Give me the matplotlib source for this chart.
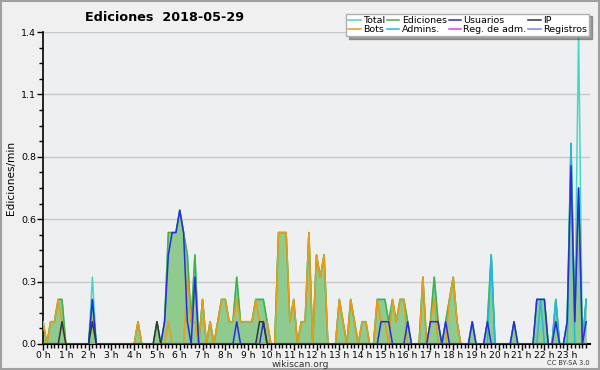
import numpy as np
import matplotlib
matplotlib.use("Agg")
from matplotlib import pyplot as plt
from matplotlib.patches import Rectangle

# edits per 10-minute slot, one row per hour
total = [1, 0, 1, 1, 2, 2,  0, 0, 0, 0, 0, 0,  0, 3, 0, 0, 0, 0,  0, 0, 0, 0, 0, 0,
         0, 1, 0, 0, 0, 0,  1, 0, 1, 5, 5, 5,  6, 5, 4, 1, 4, 0,  2, 0, 1, 0, 1, 2,
         2, 1, 1, 3, 1, 1,  1, 1, 2, 2, 2, 1,  0, 0, 5, 5, 5, 1,  2, 0, 1, 1, 5, 0,
         4, 3, 4, 0, 0, 0,  2, 1, 0, 2, 1, 0,  1, 1, 0, 0, 2, 2,  2, 1, 2, 1, 2, 2,
         1, 0, 0, 0, 3, 0,  1, 3, 1, 0, 1, 2,  3, 1, 0, 0, 0, 1,  0, 0, 0, 1, 4, 0,
         0, 0, 0, 0, 1, 0,  0, 0, 0, 0, 2, 2,  2, 0, 0, 2, 0, 0,  1, 9, 1, 14, 0, 2]
ediciones = [1, 0, 1, 1, 2, 2,  0, 0, 0, 0, 0, 0,  0, 2, 0, 0, 0, 0,  0, 0, 0, 0, 0, 0,
             0, 1, 0, 0, 0, 0,  1, 0, 1, 5, 5, 5,  6, 5, 4, 1, 4, 0,  2, 0, 1, 0, 1, 2,
             2, 1, 1, 3, 1, 1,  1, 1, 2, 2, 2, 1,  0, 0, 5, 5, 5, 1,  2, 0, 1, 1, 5, 0,
             4, 3, 4, 0, 0, 0,  2, 1, 0, 2, 1, 0,  1, 1, 0, 0, 2, 2,  2, 1, 2, 1, 2, 2,
             1, 0, 0, 0, 3, 0,  1, 3, 1, 0, 1, 2,  3, 1, 0, 0, 0, 1,  0, 0, 0, 1, 4, 0,
             0, 0, 0, 0, 1, 0,  0, 0, 0, 0, 2, 2,  2, 0, 0, 2, 0, 0,  1, 9, 1, 7, 0, 2]
usuarios = [0, 0, 0, 0, 0, 0,  0, 0, 0, 0, 0, 0,  0, 2, 0, 0, 0, 0,  0, 0, 0, 0, 0, 0,
            0, 0, 0, 0, 0, 0,  0, 0, 1, 4, 5, 5,  6, 5, 1, 0, 3, 0,  0, 0, 0, 0, 0, 0,
            0, 0, 0, 1, 0, 0,  0, 0, 0, 0, 1, 0,  0, 0, 0, 0, 0, 0,  0, 0, 0, 0, 0, 0,
            0, 0, 0, 0, 0, 0,  0, 0, 0, 0, 0, 0,  0, 0, 0, 0, 0, 1,  1, 1, 0, 0, 0, 0,
            1, 0, 0, 0, 0, 0,  1, 1, 1, 0, 1, 0,  0, 0, 0, 0, 0, 1,  0, 0, 0, 1, 0, 0,
            0, 0, 0, 0, 1, 0,  0, 0, 0, 0, 2, 2,  2, 0, 0, 1, 0, 0,  1, 8, 1, 7, 0, 1]
ip = [0, 0, 0, 0, 0, 1,  0, 0, 0, 0, 0, 0,  0, 1, 0, 0, 0, 0,  0, 0, 0, 0, 0, 0,
      0, 0, 0, 0, 0, 0,  1, 0, 0, 0, 0, 0,  0, 0, 0, 0, 0, 0,  0, 0, 0, 0, 0, 0,
      0, 0, 0, 0, 0, 0,  0, 0, 0, 1, 1, 0,  0, 0, 0, 0, 0, 0,  0, 0, 0, 0, 0, 0,
      0, 0, 0, 0, 0, 0,  0, 0, 0, 0, 0, 0,  0, 0, 0, 0, 0, 0,  0, 0, 0, 0, 0, 0,
      0, 0, 0, 0, 0, 0,  0, 0, 0, 0, 0, 0,  0, 0, 0, 0, 0, 0,  0, 0, 0, 0, 0, 0,
      0, 0, 0, 0, 0, 0,  0, 0, 0, 0, 0, 0,  0, 0, 0, 0, 0, 0,  0, 0, 0, 0, 0, 0]
bots = [1, 0, 1, 1, 2, 1,  0, 0, 0, 0, 0, 0,  0, 0, 0, 0, 0, 0,  0, 0, 0, 0, 0, 0,
        0, 1, 0, 0, 0, 0,  0, 0, 0, 1, 0, 0,  0, 0, 3, 1, 1, 0,  2, 0, 1, 0, 1, 2,
        2, 1, 1, 2, 1, 1,  1, 1, 2, 1, 1, 1,  0, 0, 5, 5, 5, 1,  2, 0, 1, 1, 5, 0,
        4, 3, 4, 0, 0, 0,  2, 1, 0, 2, 1, 0,  1, 1, 0, 0, 2, 1,  1, 0, 2, 1, 2, 2,
        0, 0, 0, 0, 3, 0,  1, 2, 0, 0, 0, 2,  3, 1, 0, 0, 0, 0,  0, 0, 0, 0, 0, 0,
        0, 0, 0, 0, 0, 0,  0, 0, 0, 0, 0, 0,  0, 0, 0, 0, 0, 0,  0, 0, 0, 0, 0, 0]
admins = [0, 0, 0, 0, 0, 0,  0, 0, 0, 0, 0, 0,  0, 2, 0, 0, 0, 0,  0, 0, 0, 0, 0, 0,
          0, 0, 0, 0, 0, 0,  0, 0, 0, 0, 0, 0,  0, 0, 0, 0, 0, 0,  0, 0, 0, 0, 0, 0,
          0, 0, 0, 0, 0, 0,  0, 0, 0, 0, 0, 0,  0, 0, 0, 0, 0, 0,  0, 0, 0, 0, 0, 0,
          0, 0, 0, 0, 0, 0,  0, 0, 0, 0, 0, 0,  0, 0, 0, 0, 0, 0,  0, 0, 0, 0, 0, 0,
          0, 0, 0, 0, 0, 0,  0, 0, 0, 0, 0, 0,  0, 0, 0, 0, 0, 0,  0, 0, 0, 0, 4, 0,
          0, 0, 0, 0, 0, 0,  0, 0, 0, 0, 0, 2,  0, 0, 0, 2, 0, 0,  0, 9, 0, 0, 0, 2]
reg_adm = [0] * 144
registros = [0] * 144

hour_labels = [f"{h} h" for h in range(24)]
y_ticks = [0.0, 0.28, 0.56, 0.84, 1.12, 1.4]

x = np.arange(144) / 6.0


def rate(v):
    # edits per 10 min -> edits per minute
    return np.array(v) / 10.0


fig = plt.figure(figsize=(6.0, 3.7), dpi=100, facecolor="#f0f0f0")
fig.patches.append(Rectangle((0.001, 0.002), 0.997, 0.995, transform=fig.transFigure,
                             fill=False, edgecolor="#a0a0a0", lw=1.5))
ax = fig.add_axes([0.0717, 0.0703, 0.9116, 0.8432])
ax.set_facecolor("#eeeff1")

ax.fill_between(x, rate(ediciones), color="#8fcb8f", lw=0, zorder=2)
l_reg = ax.plot(x, rate(registros), color="#8080ff", lw=1.1, zorder=3)[0]
l_rad = ax.plot(x, rate(reg_adm), color="#e040e0", lw=1.1, zorder=3)[0]
l_tot = ax.plot(x, rate(total), color="#45d8c8", lw=1.1, zorder=3)[0]
l_edi = ax.plot(x, rate(ediciones), color="#44b044", lw=1.1, zorder=4)[0]
l_adm = ax.plot(x, rate(admins), color="#22b8e0", lw=1.1, zorder=5)[0]
l_bot = ax.plot(x, rate(bots), color="#f09a10", lw=1.1, zorder=5)[0]
l_usu = ax.plot(x, rate(usuarios), color="#2a2ae0", lw=1.1, zorder=6)[0]
l_ip = ax.plot(x, rate(ip), color="#303838", lw=1.1, zorder=7)[0]

ax.set_xlim(0, 24)
ax.set_ylim(0, 1.4)
ax.set_xticks(range(24))
ax.set_xticklabels(hour_labels, fontsize=6.6)
ax.set_xticks(np.arange(0, 24, 1 / 6), minor=True)
ax.set_yticks(y_ticks)
ax.set_yticklabels([f"{v:.1f}" for v in y_ticks], fontsize=6.8)
ax.set_yticks(np.arange(0, 1.41, 0.07), minor=True)
ax.tick_params(axis="both", which="major", length=4, width=1, pad=1)
ax.tick_params(axis="both", which="minor", length=3, width=1)
ax.grid(axis="y", which="major", color="#c8c8c8", lw=1)
ax.set_axisbelow(True)
for s in ["top", "right"]:
    ax.spines[s].set_visible(False)
ax.spines["left"].set_linewidth(1.2)
ax.spines["bottom"].set_linewidth(1.5)

fig.text(0.142, 0.954, "Ediciones  2018-05-29", fontsize=9.2, fontweight="bold",
         va="center", ha="left")
fig.text(0.018, 0.52, "Ediciones/min", rotation=90, fontsize=7.6, va="center", ha="center")
fig.text(0.5, 0.016, "wikiscan.org", fontsize=6.6, ha="center", va="center", color="#333333")
fig.text(0.983, 0.018, "CC BY-SA 3.0", fontsize=4.8, ha="right", va="center", color="#333333")

handles = [l_tot, l_bot, l_edi, l_adm, l_usu, l_rad, l_ip, l_reg]
labels = ["Total", "Bots", "Ediciones", "Admins.", "Usuarios", "Reg. de adm.", "IP", "Registros"]
leg = fig.legend(handles, labels, loc="upper right", bbox_to_anchor=(0.99, 0.976), ncol=4,
                 fontsize=6.8, handlelength=1.3, handletextpad=0.25, columnspacing=0.2,
                 labelspacing=0.0, borderpad=0.25, fancybox=False, shadow=True,
                 edgecolor="#b0b0b0", framealpha=1)
leg.set_zorder(10)

fig.savefig("out.png", dpi=100, facecolor=fig.get_facecolor())
